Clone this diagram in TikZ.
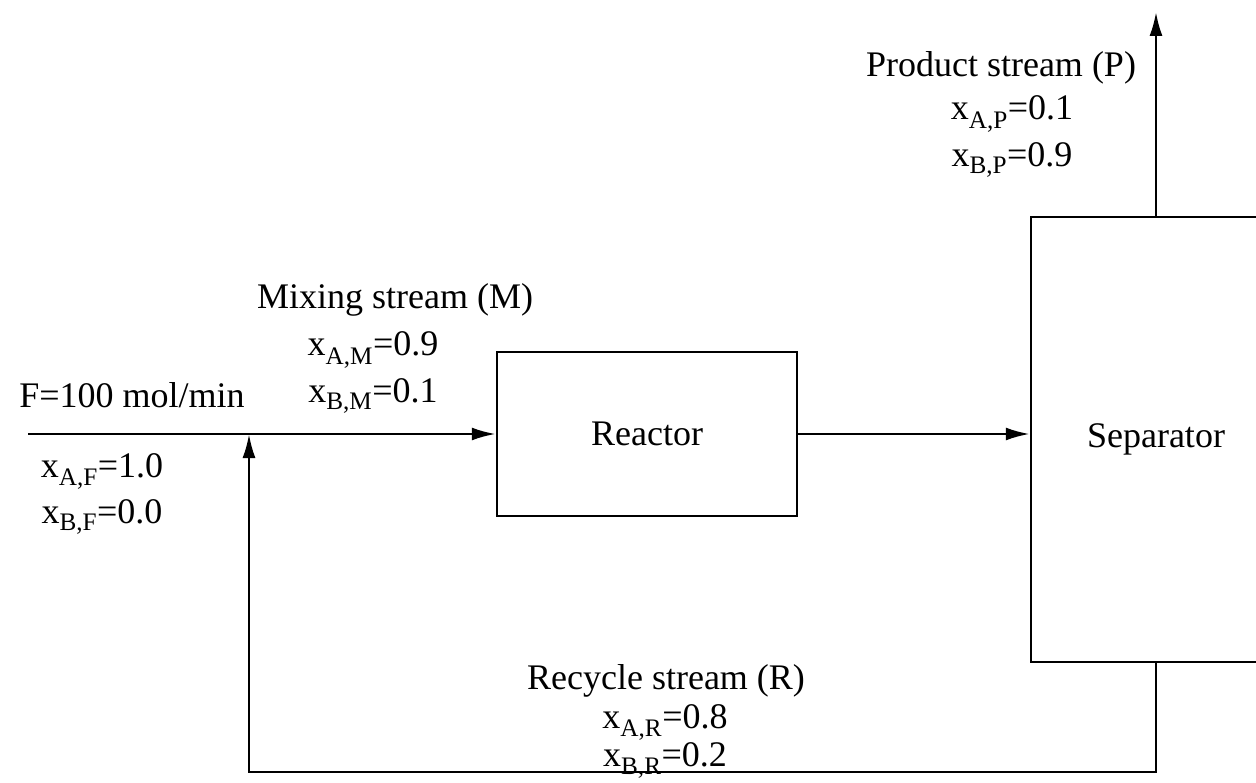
\documentclass[tikz,border=0pt]{standalone}
\usepackage{fontspec}
\setmainfont{Liberation Serif}
\usetikzlibrary{arrows.meta}

\begin{document}
\begin{tikzpicture}[x=1pt,y=-1pt,node distance=46pt,line width=2.5pt,
    font=\fontsize{36}{40}\selectfont]
\tikzstyle{unit}=[draw,rectangle,inner sep=0pt]
\tikzstyle{streamtext}=[inner sep=0pt]
\tikzstyle{flow}=[-{Latex[length=24pt,width=13pt]}]
\useasboundingbox (0,0) rectangle (1256,783);
% units
\node [unit,minimum width=300pt,minimum height=164pt] (reactor) at (647,434) {Reactor};
\node [unit,minimum width=250pt,minimum height=445pt] (separator) at (1156,439.5) {Separator};
% stream ends
\coordinate (feed) at (28,434);
\coordinate (mix) at (249,434);
\coordinate (pout) at (1156,12);
\coordinate (rbottom) at (1156,772);
% streams
\draw[flow] (feed) -- (reactor.west);
\draw[flow] (reactor.east) -- (reactor.east -| separator.west);
\draw[flow] (separator.north) -- (pout);
\draw[flow] (separator.south) -- (rbottom) -| (mix);
% stream labels
\node [streamtext] (F) at (132,395) {F=100 mol/min};
\node [streamtext] (xAF) at (102,471) {x\textsubscript{A,F}=1.0};
\node [streamtext,below of = xAF] (xBF) {x\textsubscript{B,F}=0.0};
\node [streamtext] (M) at (395,300) {Mixing stream (M)};
\node [streamtext,below of = M,xshift=-22pt,yshift=-4pt] (xAM) {x\textsubscript{A,M}=0.9};
\node [streamtext,below of = xAM] (xBM) {x\textsubscript{B,M}=0.1};
\node [streamtext] (P) at (1001,68) {Product stream (P)};
\node [streamtext,below of = P,xshift=11pt] (xAP) {x\textsubscript{A,P}=0.1};
\node [streamtext,below of = xAP] (xBP) {x\textsubscript{B,P}=0.9};
\node [streamtext] (R) at (666,681) {Recycle stream (R)};
\node [streamtext] (xAR) at (665,722) {x\textsubscript{A,R}=0.8};
\node [streamtext,below of = xAR,node distance=38pt] (xBR) {x\textsubscript{B,R}=0.2};
\end{tikzpicture}
\end{document}
